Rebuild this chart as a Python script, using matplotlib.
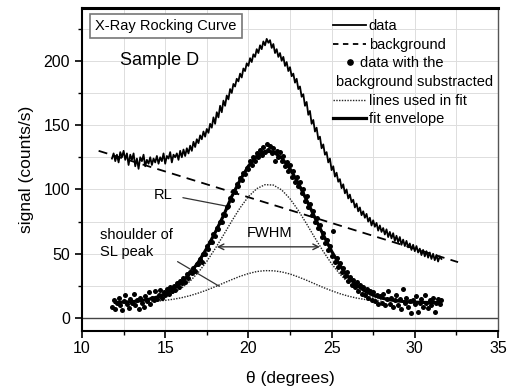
import numpy as np
import matplotlib.pyplot as plt
import matplotlib.transforms as mtransforms
from matplotlib.lines import Line2D
from matplotlib.ticker import MultipleLocator

plt.rcParams['font.family'] = ['Liberation Sans', 'DejaVu Sans']

# scan grid of the measured curve (degrees)
theta_start = 11.8
theta_step = 0.1
theta_count = 199

# raw signal (counts/s)
signal = [
    124, 128, 122, 127, 121, 129, 125, 130, 123, 128,
    119, 127, 123, 128, 118, 124, 116, 125, 122, 127,
    118, 123, 120, 125, 119, 124, 121, 126, 120, 125,
    122, 128, 120, 126, 124, 129, 121, 127, 125, 128,
    123, 130, 125, 131, 126, 132, 128, 134, 130, 137,
    133, 139, 136, 142, 139, 145, 141, 147, 144, 151,
    148, 156, 151, 160, 156, 165, 160, 169, 165, 173,
    170, 178, 175, 182, 180, 186, 184, 190, 187, 194,
    192, 198, 196, 202, 199, 205, 203, 209, 206, 212,
    209, 215, 212, 217, 214, 216, 210, 213, 206, 209,
    203, 206, 200, 203, 196, 199, 192, 195, 188, 190,
    183, 186, 178, 180, 172, 174, 165, 168, 158, 161,
    151, 154, 145, 148, 139, 141, 132, 135, 127, 129,
    121, 124, 115, 118, 110, 113, 106, 108, 101, 104,
    97, 100, 93, 96, 90, 92, 86, 89, 83, 86,
    80, 83, 78, 81, 75, 78, 72, 76, 71, 74,
    68, 72, 67, 70, 65, 69, 63, 67, 62, 66,
    60, 64, 59, 63, 57, 61, 56, 60, 55, 58,
    53, 57, 52, 56, 51, 54, 49, 53, 48, 52,
    47, 51, 46, 50, 45, 49, 44, 48, 46,
]

# data with the background substracted
subtracted = [
    9, 14, 7, 12, 16, 10, 6, 13, 18, 11,
    8, 15, 12, 19, 10, 14, 7, 16, 12, 9,
    17, 13, 20, 11, 16, 14, 21, 15, 18, 22,
    16, 20, 18, 23, 19, 24, 21, 25, 22, 27,
    24, 29, 27, 31, 28, 34, 31, 36, 35, 39,
    37, 42, 42, 46, 44, 50, 50, 56, 54, 59,
    59, 65, 64, 70, 69, 75, 75, 81, 80, 86,
    87, 93, 92, 99, 98, 104, 103, 109, 107, 113,
    112, 117, 116, 122, 119, 125, 122, 128, 125, 131,
    127, 133, 129, 135, 131, 134, 128, 132, 122, 130,
    125, 129, 122, 126, 118, 121, 114, 119, 110, 114,
    106, 110, 103, 106, 97, 100, 91, 95, 86, 89,
    80, 83, 75, 78, 70, 72, 63, 66, 58, 61,
    53, 56, 48, 68, 44, 47, 40, 43, 36, 39,
    33, 36, 29, 32, 26, 30, 24, 28, 21, 26,
    19, 24, 18, 23, 16, 21, 14, 20, 13, 18,
    11, 17, 12, 19, 10, 15, 21, 11, 16, 9,
    14, 18, 10, 15, 7, 23, 12, 16, 9, 13,
    4, 14, 11, 17, 5, 12, 15, 9, 18, 12,
    8, 14, 10, 16, 5, 12, 15, 11, 14,
]

# linear background (end points)
bg_theta = [11.0, 32.6]
bg_signal = [130, 43.5]

# fit envelope
fit_theta = [12.0 + 0.5 * i for i in range(40)]
fit_envelope = [
    12.2, 12.4, 12.8, 13.5, 14.6, 16.3, 18.9, 22.8, 28.0, 34.9,
    43.6, 54.3, 66.4, 79.5, 94.5, 107.2, 118.1, 125.8, 129.7, 129.2,
    124.5, 116.1, 104.8, 91.7, 78.0, 64.7, 52.0, 41.0, 32.0, 25.5,
    21.0, 17.8, 15.6, 14.2, 13.3, 12.7, 12.4, 12.2, 12.1, 12.0,
]

# lines used in the fit (RL peak and SL shoulder)
comp_theta = [14.0 + 0.5 * i for i in range(29)]
rl_line = [
    13.7, 14.9, 16.8, 19.6, 23.5, 28.8, 35.7, 44.1, 53.9, 64.5,
    75.4, 85.7, 94.4, 100.6, 103.7, 103.4, 99.6, 92.8, 83.7, 73.2,
    62.3, 51.8, 42.3, 34.2, 27.6, 22.6, 18.9, 16.3, 14.6,
]
sl_line = [
    12.7, 13.2, 13.8, 14.7, 15.9, 17.5, 19.5, 21.8, 24.4, 27.2,
    29.9, 32.5, 34.6, 36.2, 36.9, 36.8, 35.9, 34.3, 32.0, 29.4,
    26.6, 23.8, 21.3, 19.0, 17.1, 15.6, 14.5, 13.6, 13.1,
]


def do_plot():
    f = plt.figure(figsize=(5.08, 3.9), dpi=100)
    ax = f.add_axes([0.1614, 0.1513, 0.8189, 0.8282])

    theta = np.round(theta_start + theta_step * np.arange(theta_count), 2)

    ax.axhline(0, color='#444444', lw=1.0, zorder=1)
    ax.plot(theta, signal, '-', color='black', lw=1.3, zorder=3)
    ax.plot(bg_theta, bg_signal, color='black', lw=1.3,
            dashes=(5, 3.5), zorder=3)
    ax.plot(fit_theta, fit_envelope, '-', color='black', lw=2.3, zorder=3)
    ax.plot(comp_theta, rl_line, color='#222222', lw=1.0,
            linestyle=(0, (1, 1)), zorder=3)
    ax.plot(comp_theta, sl_line, color='#222222', lw=1.0,
            linestyle=(0, (1, 1)), zorder=3)
    ax.plot(theta, subtracted, 'o', color='black', ms=3.6, mew=0, zorder=4)

    ax.set_xlim(10, 35)
    ax.set_ylim(-10, 241)
    ax.xaxis.set_major_locator(MultipleLocator(5))
    ax.xaxis.set_minor_locator(MultipleLocator(2.5))
    ax.yaxis.set_major_locator(MultipleLocator(50))
    ax.yaxis.set_minor_locator(MultipleLocator(25))
    ax.grid(True, which='both', color='#dddddd', lw=0.7, zorder=0)
    ax.set_axisbelow(True)
    ax.tick_params(which='major', direction='out', length=5, width=1.2,
                   labelsize=11.5, colors='black')
    ax.tick_params(axis='x', which='major', pad=2)
    ax.tick_params(which='minor', direction='out', length=3, width=1.0)
    for side in ['left', 'bottom']:
        ax.spines[side].set_linewidth(1.5)
    ax.spines['top'].set_linewidth(2.2)
    ax.spines['right'].set_linewidth(1.0)
    ax.spines['right'].set_color('#555555')

    ax.set_xlabel('θ (degrees)', fontsize=12.5, labelpad=11)
    ax.set_ylabel('signal (counts/s)', fontsize=12.5, labelpad=7)

    # title box and sample name
    ax.text(0.202, 0.944, 'X-Ray Rocking Curve', transform=ax.transAxes,
            ha='center', va='center', fontsize=10.5,
            bbox=dict(boxstyle='square,pad=0.35', fc='white', ec='#777777', lw=1.2))
    ax.text(0.1875, 0.836, 'Sample D', transform=ax.transAxes,
            ha='center', va='center', fontsize=13)

    # annotations
    ax.text(14.9, 96, 'RL', ha='center', va='center', fontsize=10.5)
    ax.annotate('', xy=(18.9, 86.5), xytext=(15.9, 94),
                arrowprops=dict(arrowstyle='-', color='#333333', lw=0.9))
    ax.text(11.1, 58, 'shoulder of\nSL peak', ha='left', va='center',
            fontsize=10.5, linespacing=1.3)
    ax.annotate('', xy=(18.4, 23.6), xytext=(15.6, 45),
                arrowprops=dict(arrowstyle='-', color='#333333', lw=0.9))
    ax.annotate('', xy=(18.1, 55.4), xytext=(24.3, 55.4),
                arrowprops=dict(arrowstyle='<->', color='#333333', lw=1.0,
                                shrinkA=0, shrinkB=0))
    ax.text(21.3, 66, 'FWHM', ha='center', va='center', fontsize=10.5)

    # legend; the wrapped label's second line gets its own row, shifted left
    handles = [
        Line2D([], [], color='black', lw=1.3),
        Line2D([], [], color='black', lw=1.3, dashes=(3, 2.5)),
        Line2D([], [], color='black', marker='o', ms=3.8, lw=0),
        Line2D([], [], color='none'),
        Line2D([], [], color='#222222', lw=1.0, linestyle=(0, (1, 1))),
        Line2D([], [], color='black', lw=2.3),
    ]
    labels = ['data', 'background', 'data with the', 'background substracted',
              'lines used in fit', 'fit envelope']
    leg = ax.legend(handles, labels, loc='upper left',
                    bbox_to_anchor=(0.603, 0.966), frameon=False,
                    fontsize=10.5, handlelength=2.3, handletextpad=0.15,
                    labelspacing=0.32, borderpad=0, borderaxespad=0)
    t = leg.get_texts()[3]
    t.set_transform(t.get_transform() +
                    mtransforms.ScaledTranslation(-0.33, 0, f.dpi_scale_trans))
    t2 = leg.get_texts()[2]
    t2.set_transform(t2.get_transform() +
                     mtransforms.ScaledTranslation(-0.09, 0, f.dpi_scale_trans))

    plt.savefig('out.png', format='png', dpi=100)


if __name__ == '__main__':
    do_plot()
